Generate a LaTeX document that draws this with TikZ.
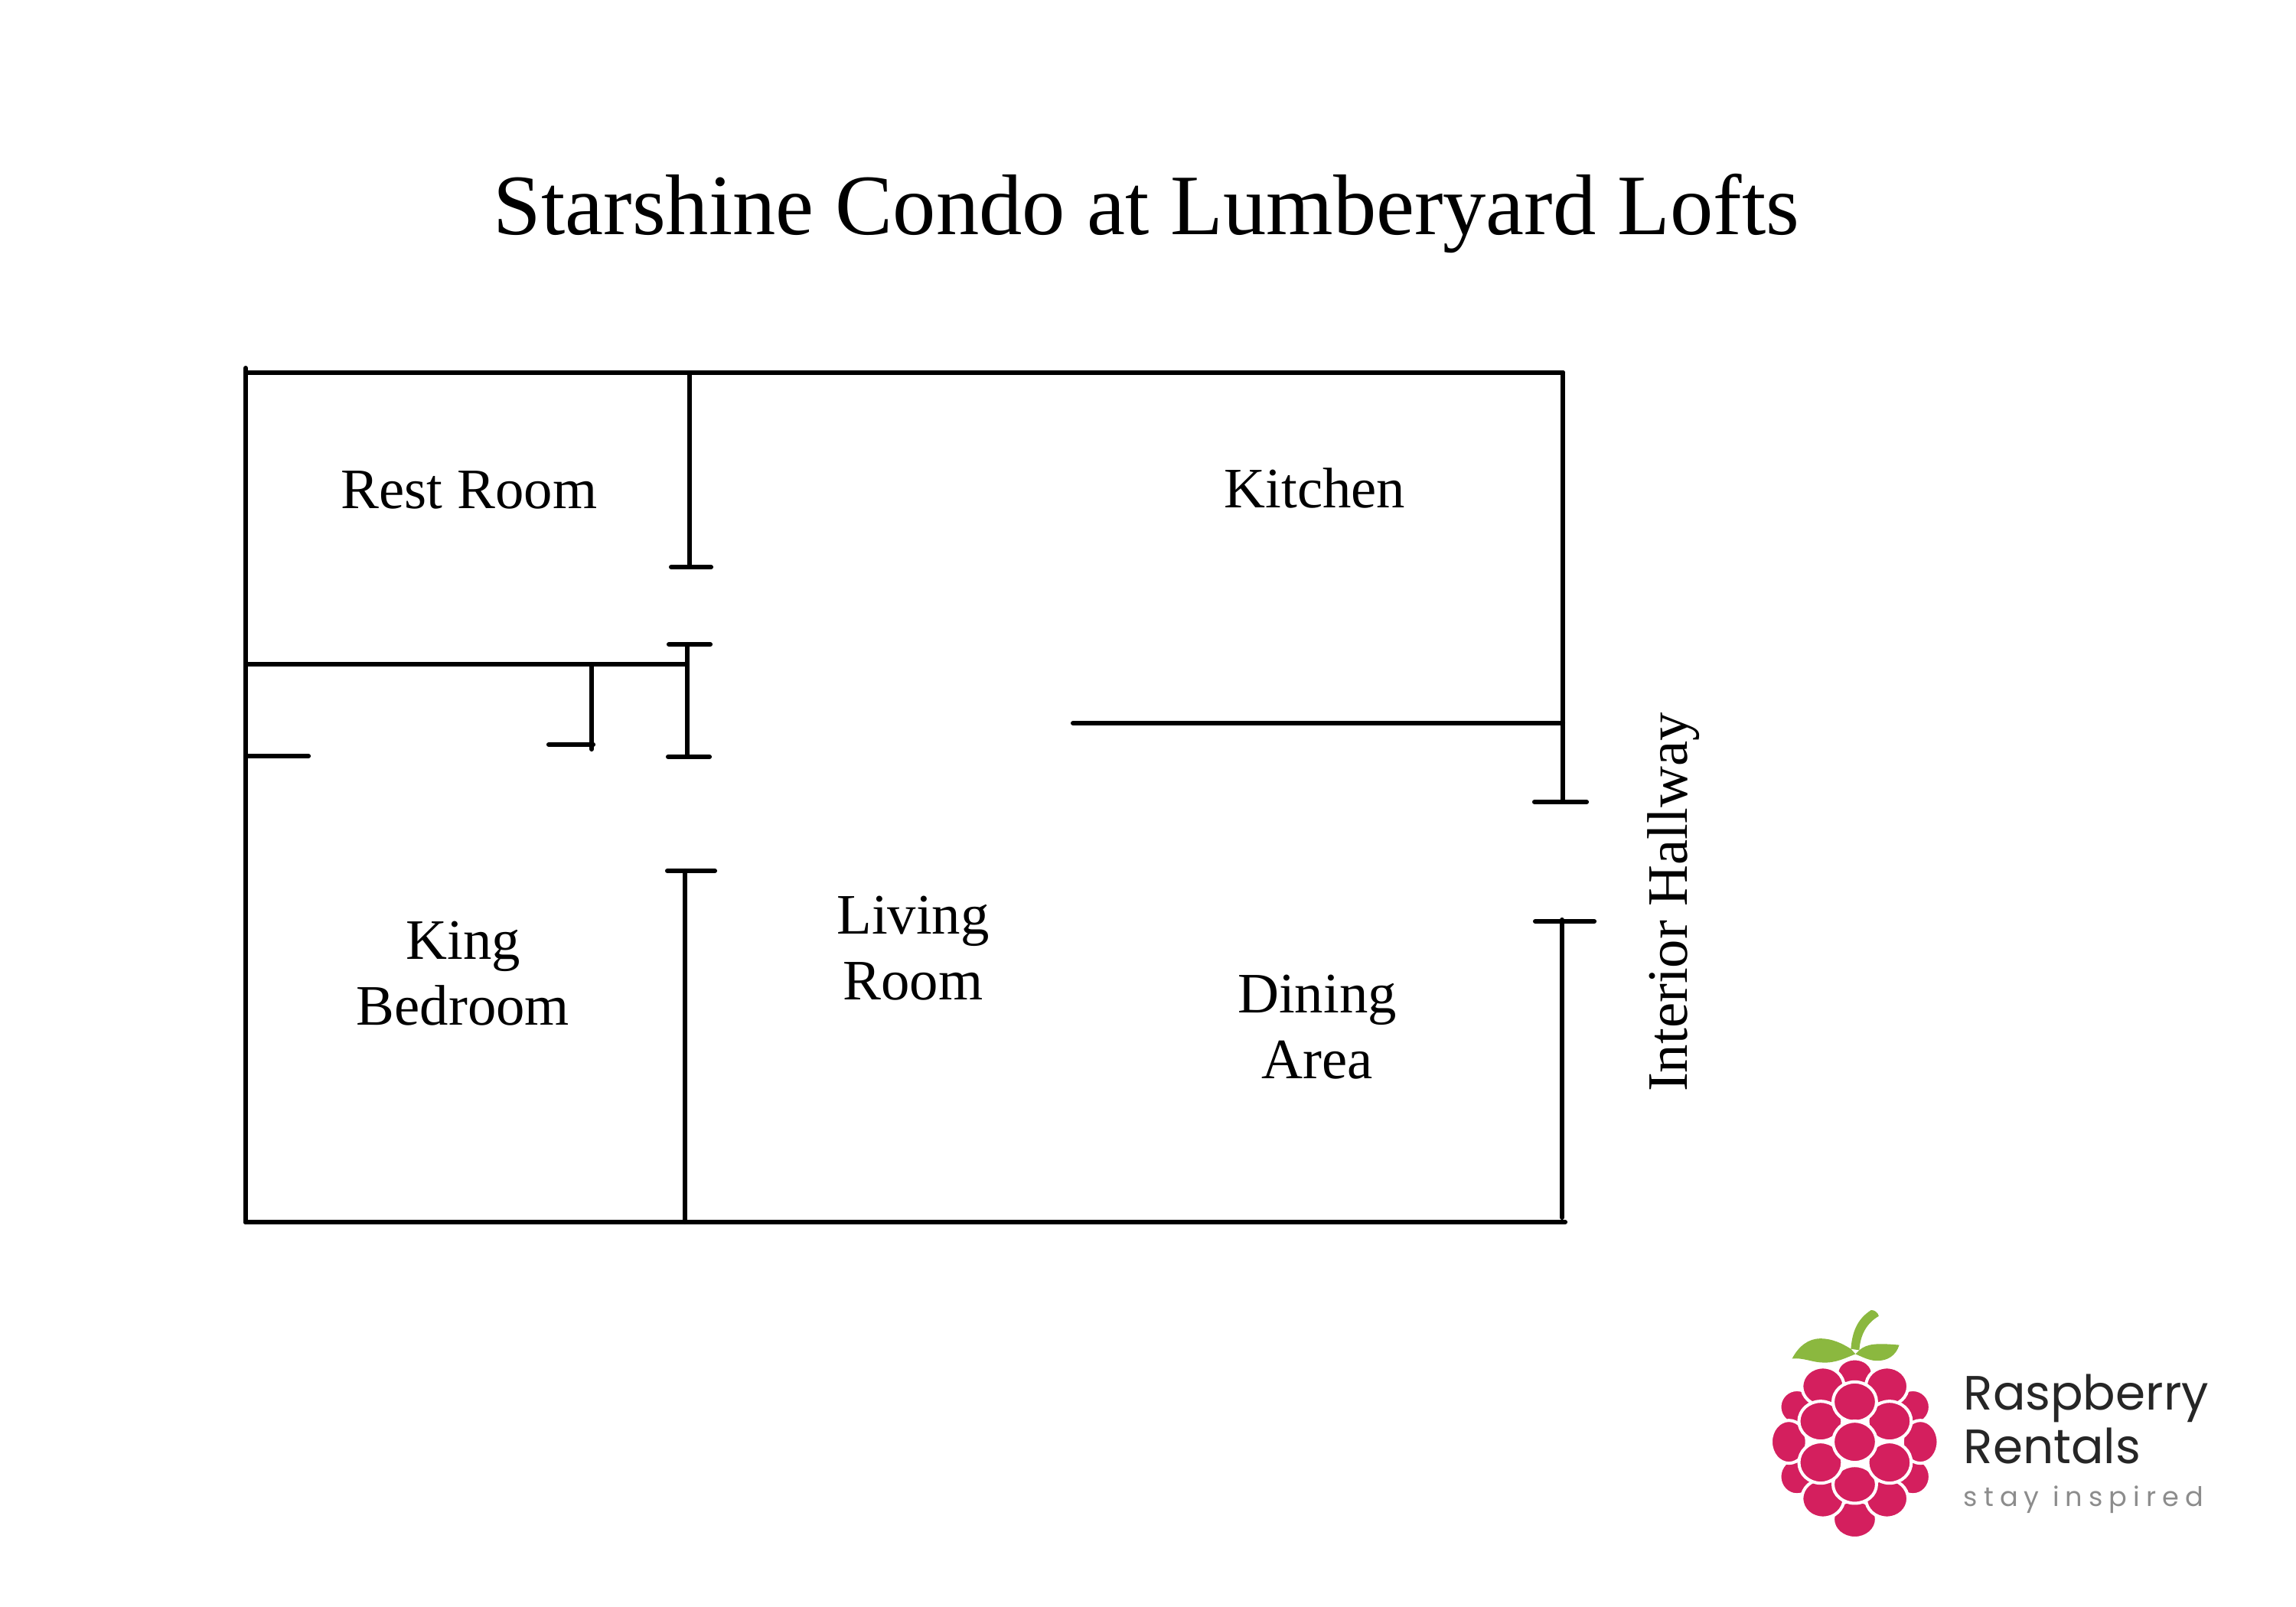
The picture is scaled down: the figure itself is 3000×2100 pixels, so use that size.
\documentclass[tikz,border=0pt]{standalone}
\usepackage{fontspec}
\setmainfont{Liberation Serif}
\newfontfamily\logofont{Poppins}
\newfontfamily\tagfont[LetterSpace=23]{Poppins}
\definecolor{berry}{HTML}{D41F5E}
\definecolor{leaf}{HTML}{8BB83F}
\definecolor{logoink}{HTML}{262626}
\definecolor{logotag}{HTML}{8C8C8C}
\newcommand{\berrydot}[4]{\path[fill=berry,draw=white,line width=1.15pt] (#1,#2) ellipse [x radius={#3+5},y radius={#4+5}];}
\tikzset{
  wall/.style={line width=1.75pt,line cap=round,black},
  titletext/.style={font=\fontsize{32}{36}\selectfont,anchor=base,inner sep=0pt},
  roomtext/.style={font=\fontsize{21.25}{24.5}\selectfont,align=center,anchor=center,inner sep=0pt},
  logoname/.style={font=\logofont\fontsize{17.9}{22}\selectfont,text=logoink,anchor=base west,inner sep=0pt},
  logotagline/.style={font=\tagfont\fontsize{10}{12}\selectfont,text=logotag,anchor=base west,inner sep=0pt}
}
\begin{document}
\begin{tikzpicture}[x=0.01cm,y=-0.01cm]
\useasboundingbox (0,0) rectangle (3000,2100);
% title
\node[titletext] (title) at (1498,306) {Starshine Condo at Lumberyard Lofts};
% outer walls
\draw[wall] (321,481) -- (321,1597);
\draw[wall] (321,487) -- (2042,487);
\draw[wall] (321,1597) -- (2045,1597);
\draw[wall] (2042,487) -- (2042,1047);
\draw[wall] (2005,1048) -- (2073,1048);
\draw[wall] (2006,1204) -- (2083,1204);
\draw[wall] (2041,1202) -- (2041,1591);
% kitchen wall
\draw[wall] (1402,945) -- (2042,945);
% rest room
\draw[wall] (901,487) -- (901,740);
\draw[wall] (877,741) -- (929,741);
\draw[wall] (874,842) -- (928,842);
\draw[wall] (898,842) -- (898,988);
\draw[wall] (873,989) -- (927,989);
\draw[wall] (321,868) -- (898,868);
% closet
\draw[wall] (773,868) -- (773,979);
\draw[wall] (717,973) -- (775,973);
\draw[wall] (321,988) -- (403,988);
% bedroom wall
\draw[wall] (872,1138) -- (934,1138);
\draw[wall] (895,1138) -- (895,1597);
% labels
\node[roomtext] (rest) at (613,640) {Rest Room};
\node[roomtext] (kitchen) at (1718,638) {Kitchen};
\node[roomtext] (king) at (605,1272) {King\\Bedroom};
\node[roomtext] (living) at (1193,1239) {Living\\Room};
\node[roomtext] (dining) at (1721,1342) {Dining\\Area};
\node[roomtext,rotate=90] (hall) at (2187,1179) {Interior Hallway};
% logo
\begin{scope}[shift={(2280,1680)},x=0.004237cm,y=-0.003367cm]
\fill[leaf] (326,245) .. controls (330,180) and (345,130) .. (388,95)
  .. controls (398,93) and (410,105) .. (412,118)
  .. controls (375,145) and (355,190) .. (352,250) -- cycle;
\fill[leaf] (145,283) .. controls (165,235) and (195,205) .. (232,205)
  .. controls (270,205) and (300,225) .. (326,245) -- (340,265)
  .. controls (310,280) and (280,300) .. (240,298)
  .. controls (205,297) and (180,278) .. (145,283) -- cycle;
\fill[leaf] (352,250) .. controls (375,225) and (405,222) .. (475,230)
  .. controls (465,270) and (440,292) .. (405,291)
  .. controls (380,290) and (360,275) .. (340,265) -- cycle;
\berrydot{338}{340}{50}{52}
\berrydot{160}{470}{48}{62}
\berrydot{517}{470}{48}{62}
\berrydot{160}{740}{48}{65}
\berrydot{517}{740}{48}{65}
\berrydot{135}{605}{50}{78}
\berrydot{540}{605}{50}{78}
\berrydot{338}{905}{62}{68}
\berrydot{240}{825}{60}{70}
\berrydot{437}{825}{60}{70}
\berrydot{338}{770}{62}{68}
\berrydot{240}{390}{60}{70}
\berrydot{437}{390}{60}{70}
\berrydot{233}{525}{62}{72}
\berrydot{445}{525}{62}{72}
\berrydot{338}{450}{62}{72}
\berrydot{233}{685}{62}{75}
\berrydot{445}{685}{62}{75}
\berrydot{338}{605}{62}{75}
\end{scope}
\node[logoname] (brandA) at (2565,1842) {Raspberry};
\node[logoname] (brandB) at (2565,1912) {Rentals};
\node[logotagline] (brandC) at (2565,1968) {stay inspired};
\end{tikzpicture}
\end{document}
